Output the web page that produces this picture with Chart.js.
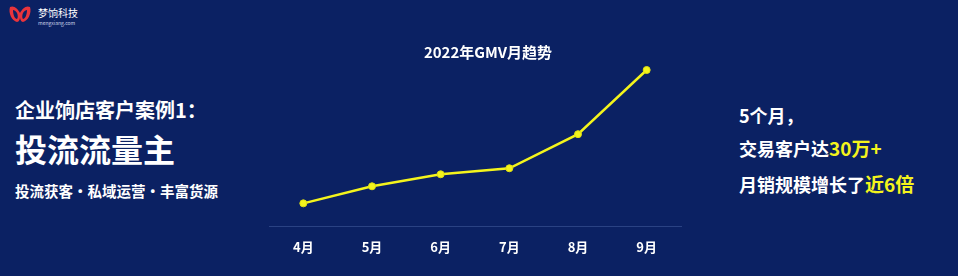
<!DOCTYPE html>
<html>
<head>
<meta charset="utf-8">
<script src="https://cdn.jsdelivr.net/npm/chart.js@4"></script>
<style>
  html, body { margin: 0; padding: 0; }
  body {
    width: 958px; height: 276px; overflow: hidden; position: relative;
    background: #0b2163; color: #fff;
    font-family: "Noto Sans CJK SC", "Noto Sans", sans-serif;
  }
  .logo { position: absolute; left: 8px; top: 4px; }
  .logo-name { position: absolute; left: 30px; top: 1px; font-size: 10px; white-space: nowrap; }
  .logo-url { position: absolute; left: 30px; top: 15px; font-size: 5px; color: #cfd6ea; white-space: nowrap; }
  .left, .right { position: absolute; font-weight: bold; white-space: nowrap; line-height: 1; }
  .left { left: 15px; }
  .right { left: 739px; font-size: 18px; }
  .hl { color: #f4f41c; font-size: 19px; }
  #wrap { position: absolute; left: 260px; top: 36px; width: 456px; height: 232px; }
</style>
</head>
<body>
<div class="logo">
  <svg width="24" height="18" viewBox="0 0 24 18">
    <path d="M2 2 C6 0 10 4 12 8 C14 4 18 0 22 2 C24 8 20 16 15 17 C13 17 12 14 12 12 C12 14 11 17 9 17 C4 16 0 8 2 2 Z M5 5 C5 10 7 14 9 14 C10 13 10 10 9 8 C8 6 6 5 5 5 Z M19 5 C18 5 16 6 15 8 C14 10 14 13 15 14 C17 14 19 10 19 5 Z" fill="#e8343c"/>
  </svg>
  <div class="logo-name">梦饷科技</div>
  <div class="logo-url">mengxiang.com</div>
</div>

<div class="left" style="top:100px;font-size:20px;">企业饷店客户案例1：</div>
<div class="left" style="top:132px;font-size:32px;">投流流量主</div>
<div class="left" style="top:184px;font-size:14.5px;">投流获客・私域运营・丰富货源</div>

<div class="right" style="top:106px;">5个月，</div>
<div class="right" style="top:138px;">交易客户达<span class="hl">30万+</span></div>
<div class="right" style="top:174px;">月销规模增长了<span class="hl">近6倍</span></div>

<div id="wrap"><canvas id="gmv"></canvas></div>

<script>
// months and GMV trend (relative units)
const months = ['4月', '5月', '6月', '7月', '8月', '9月'];
const gmvValues = [23, 40, 52, 58, 92, 156];
const chartTitle = '2022年GMV月趋势';

const ctx = document.getElementById('gmv').getContext('2d');
new Chart(ctx, {
    type: 'line',
    data: {
        labels: months,
        datasets: [{
            label: 'GMV',
            data: gmvValues,
            borderColor: '#f4f41c',
            backgroundColor: '#f4f41c',
            borderWidth: 2.5,
            pointRadius: 3.5,
            pointBackgroundColor: '#f4f41c',
            pointBorderColor: '#e0e010',
            pointBorderWidth: 1,
            tension: 0,
            clip: false
        }]
    },
    options: {
        responsive: true,
        maintainAspectRatio: false,
        animation: false,
        layout: { padding: { left: 9, right: 9, top: 0, bottom: 0 } },
        plugins: {
            legend: { display: false },
            tooltip: { enabled: false },
            title: {
                display: true,
                text: chartTitle,
                color: '#ffffff',
                font: { size: 15, weight: 'bold', family: '"Noto Sans CJK SC", sans-serif' },
                padding: { top: 7, bottom: 7 }
            }
        },
        scales: {
            x: {
                offset: true,
                grid: { display: false, drawTicks: false },
                border: { display: true, color: '#2a4283', width: 1 },
                ticks: {
                    color: '#ffffff',
                    padding: 13,
                    font: { size: 13, weight: 'bold', family: '"Noto Sans CJK SC", sans-serif' }
                }
            },
            y: {
                // invisible spacer on the right so the title sits right of the plot centre
                position: 'right',
                min: 0,
                max: 158,
                grid: { display: false },
                border: { display: false },
                ticks: { display: false },
                afterFit: function(scale) { scale.width = 26; }
            }
        }
    }
});
</script>
</body>
</html>
